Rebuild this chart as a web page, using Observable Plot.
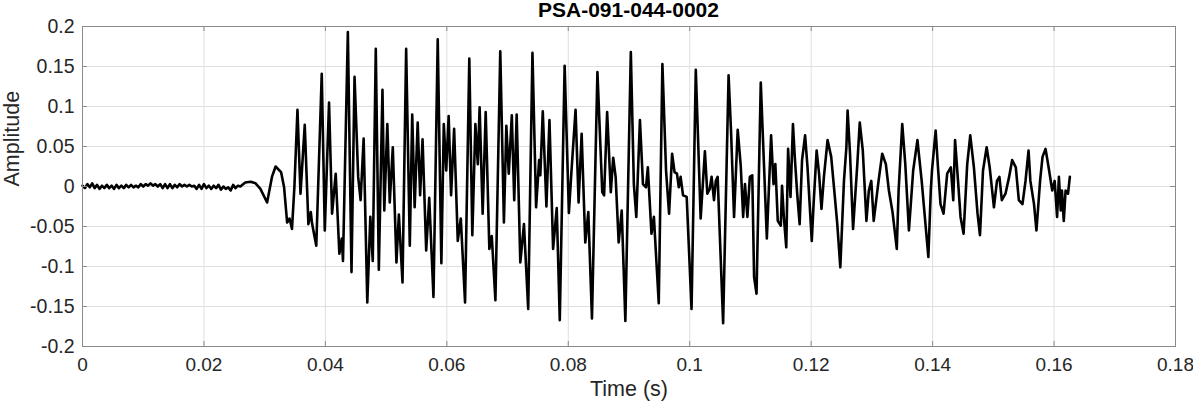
<!DOCTYPE html>
<html>
<head>
<meta charset="utf-8">
<script src="https://cdn.jsdelivr.net/npm/d3@7"></script>
<script src="https://cdn.jsdelivr.net/npm/@observablehq/plot@0.6"></script>
<style>
  html, body { margin: 0; padding: 0; background: #fff; }
  #wrap { position: relative; width: 1193px; height: 404px; }
  #title { position: absolute; left: 82px; top: 0; width: 1093px; height: 20px; line-height: 20px; text-align: center;
           font-family: "Liberation Sans", Arial, sans-serif; font-weight: bold; font-size: 21px; color: #000; z-index: 2; }
  #chart svg { display: block; overflow: visible; }
</style>
</head>
<body>
<div id="wrap">
<div id="title">PSA-091-044-0002</div>
<div id="chart"></div>
</div>
<script>
const titleText = "PSA-091-044-0002";
const xLabel = "Time (s)";
const yLabel = "Amplitude";
const xTicks = [0, 0.02, 0.04, 0.06, 0.08, 0.1, 0.12, 0.14, 0.16, 0.18];
const yTicks = [-0.2, -0.15, -0.1, -0.05, 0, 0.05, 0.1, 0.15, 0.2];

// [time (s), amplitude]
const quiet = [
  [0,0.001],[0.0004,-0.002],[0.0008,0.003],[0.0012,-0.001],[0.0016,0.004],[0.002,-0.002],
  [0.0024,0.002],[0.0028,-0.003],[0.0032,0.001],[0.0036,-0.002],[0.004,0.002],[0.0044,-0.002],
  [0.0048,0.001],[0.0052,-0.003],[0.0056,0.002],[0.006,-0.002],[0.0064,0.001],[0.0068,-0.002],
  [0.0072,0.002],[0.0076,-0.001],[0.008,0.002],[0.0084,-0.001],[0.0088,0.001],[0.0092,-0.001],
  [0.0096,0.003],[0.01,0.0],[0.0104,0.003],[0.0108,0.001],[0.0112,0.004],[0.0116,0.001],
  [0.012,0.003],[0.0124,0.0],[0.0128,0.003],[0.0132,-0.002],[0.0136,0.003],[0.014,-0.002],
  [0.0144,0.003],[0.0148,-0.002],[0.0152,0.002],[0.0156,-0.001],[0.016,0.003],[0.0164,0.0],
  [0.0168,0.002],[0.0172,0.0],[0.0176,0.002],[0.018,0.0],[0.0184,0.001],[0.0188,-0.003],
  [0.0192,0.002],[0.0196,-0.003],[0.02,0.003],[0.0204,-0.002],[0.0208,0.001],[0.0212,-0.003],
  [0.0216,0.001],[0.022,-0.002],[0.0224,0.002],[0.0228,-0.004],[0.0232,0.0],[0.0236,-0.003],
  [0.024,-0.001],[0.0244,-0.005],[0.0248,0.002],[0.0252,-0.002],[0.0256,0.001],[0.026,0.0]
];
const onset = [
  [0.0268,0.005],[0.0277,0.006],[0.0285,0.004],[0.0293,-0.003],[0.0304,-0.02],[0.0312,0.012],
  [0.0318,0.025],[0.0327,0.018],[0.0332,-0.001],[0.0337,-0.045],[0.0341,-0.04],[0.0345,-0.053],
  [0.0349,0.0],[0.0354,0.096],[0.0359,-0.009],[0.0366,0.077],[0.0372,-0.047],[0.0376,-0.032],
  [0.0378,-0.046],[0.0385,-0.074],[0.0394,0.141],[0.0399,-0.055],[0.0406,0.105],[0.0411,-0.034],
  [0.0417,0.016],[0.0423,-0.084],[0.0427,-0.065],[0.0429,-0.093],[0.0437,0.193],[0.0443,-0.107],
  [0.0448,0.137],[0.0454,0.012],[0.0458,-0.017],[0.0463,0.06],[0.0469,-0.145],[0.0474,-0.038],
  [0.0478,-0.093],[0.0483,0.172],[0.0488,-0.104],[0.0494,0.121],[0.0497,-0.03],[0.0502,0.078],
  [0.0506,-0.02],[0.0511,0.049],[0.0517,-0.095],[0.0521,-0.035],[0.0527,-0.12],[0.0533,0.172],
  [0.0539,-0.074],[0.0543,0.09],[0.0547,-0.026],[0.0552,0.08],[0.0556,-0.011],[0.056,0.059],
  [0.0566,-0.08],[0.0571,-0.014],[0.0578,-0.138],[0.0585,0.184],[0.0591,-0.096],[0.0595,0.078],
  [0.0599,0.02],[0.0603,0.088],[0.0607,-0.011],[0.0612,0.072],[0.0618,-0.068],[0.0623,-0.04],
  [0.063,-0.145],[0.0637,0.16],[0.0642,-0.061],[0.0647,0.078],[0.0651,0.028],[0.0654,0.099],
  [0.0659,-0.034],[0.0664,0.093],[0.067,-0.078],[0.0674,-0.062],[0.068,-0.142]
];
const voiced = [
  [0.0688,0.169],[0.0694,-0.045],[0.0698,0.076],[0.0702,0.016],[0.0707,0.089],[0.0711,-0.017],
  [0.0715,0.09],[0.0721,-0.095],[0.0727,-0.047],[0.0734,-0.153],[0.0741,0.167],[0.0747,-0.026],
  [0.0752,0.033],[0.0754,0.014],[0.0758,0.094],[0.0764,-0.025],[0.0769,0.083],[0.0775,-0.078],
  [0.0781,-0.027],[0.0786,-0.167],[0.0794,0.151],[0.0801,-0.033],[0.0805,0.016],[0.0812,0.096],
  [0.0817,-0.02],[0.0822,0.066],[0.0828,-0.07],[0.0833,-0.032],[0.0839,-0.165],[0.0848,0.143],
  [0.0856,-0.007],[0.0859,-0.011],[0.0864,0.093],[0.087,-0.007],[0.0874,0.036],[0.0878,0.012],
  [0.0883,-0.07],[0.0888,-0.03],[0.0894,-0.168],[0.0903,0.168],[0.0908,0.003],[0.0912,-0.038],
  [0.0918,0.083],[0.0923,0.003],[0.0928,-0.001],[0.0931,0.024],[0.0937,-0.059],[0.0941,-0.038],
  [0.0949,-0.146],[0.0955,0.153],[0.0961,0.02],[0.0966,-0.034],[0.0971,0.041],[0.0975,0.018],
  [0.0979,0.016],[0.0982,-0.001],[0.0985,0.012],[0.0989,-0.011],[0.0995,-0.013],[0.1003,-0.153],
  [0.101,0.146],[0.1018,-0.04],[0.1025,0.044],[0.1029,-0.009],[0.1033,-0.003],[0.1036,0.012],
  [0.104,-0.017],[0.1043,0.007],[0.1046,0.012],[0.1055,-0.171],[0.1064,0.139],[0.1068,0.07],
  [0.1073,-0.038],[0.1079,0.071],[0.1084,0.026],[0.1088,-0.038],[0.1091,0.003],[0.1095,-0.038],
  [0.1099,0.012],[0.1103,0.014],[0.1106,-0.113],[0.111,-0.134],[0.1117,0.13],[0.1122,0.033],
  [0.1127,-0.065],[0.1134,0.064],[0.1138,0.003],[0.1141,0.028],[0.1145,-0.043],[0.115,-0.049],
  [0.1152,0.001],[0.1155,-0.038],[0.1159,-0.076],[0.1162,0.047],[0.1166,-0.013],[0.117,0.078],
  [0.1173,0.037],[0.1177,-0.009],[0.1181,-0.047],[0.1185,0.033],[0.119,0.064],[0.1194,0.024]
];
const tail = [
  [0.1201,-0.068],[0.1204,-0.022],[0.1209,0.045],[0.1213,0.016],[0.1217,-0.028],[0.1221,0.012],
  [0.1227,0.058],[0.1233,0.037],[0.1239,-0.013],[0.1243,-0.047],[0.1248,-0.101],[0.1254,0.007],
  [0.1258,0.049],[0.126,0.095],[0.1264,0.041],[0.1269,-0.053],[0.1276,0.028],[0.128,0.08],
  [0.1285,0.045],[0.1291,-0.043],[0.1295,-0.005],[0.1299,0.007],[0.1303,-0.043],[0.1311,0.007],
  [0.1317,0.041],[0.1323,0.028],[0.1328,-0.005],[0.1334,-0.032],[0.1341,-0.078],[0.1344,-0.005],
  [0.135,0.078],[0.1355,0.028],[0.1361,-0.055],[0.1368,0.02],[0.1375,0.058],[0.1382,0.007],
  [0.1388,-0.045],[0.1393,-0.088],[0.1397,-0.005],[0.1399,0.02],[0.1405,0.07],[0.1409,0.022],
  [0.1413,-0.022],[0.1418,-0.034],[0.1424,0.016],[0.143,0.024],[0.1434,-0.017],[0.1437,0.058],
  [0.1441,0.016],[0.1446,-0.038],[0.1451,-0.059],[0.1457,0.028],[0.1462,0.064],[0.1468,0.024],
  [0.1474,-0.034],[0.1478,-0.061],[0.1483,0.02],[0.1489,0.049],[0.1494,0.024],[0.1501,-0.026],
  [0.1506,0.007],[0.151,0.012],[0.1514,-0.017],[0.152,-0.009],[0.1526,0.012],[0.1531,0.033],
  [0.1537,0.024],[0.1542,-0.017],[0.1548,-0.022],[0.1553,0.007],[0.1558,0.045],[0.1561,0.007],
  [0.1567,-0.022],[0.1571,-0.055],[0.1577,0.007],[0.1581,0.037],[0.1586,0.047],[0.1591,0.024],
  [0.1597,-0.005],[0.1601,0.007],[0.1605,-0.038],[0.1608,0.012],[0.1611,-0.03],[0.1613,-0.005],
  [0.1616,-0.043],[0.1619,-0.005],[0.1623,-0.009],[0.1626,0.012]
];
const wave = [...quiet, ...onset, ...voiced, ...tail];

document.getElementById("title").textContent = titleText;

const frameColor = "#8a8a8a";
const gridColor = "#dfdfdf";
const H = 404, W = 1193;
const mTop = 26, mBottom = 58, mLeft = 82, mRight = 18;
const plotH = H - mTop - mBottom;
const plotW = W - mLeft - mRight;

const chart = Plot.plot({
  width: W,
  height: H,
  marginTop: mTop,
  marginBottom: mBottom,
  marginLeft: mLeft,
  marginRight: mRight,
  x: {domain: [0, 0.18]},
  y: {domain: [-0.2, 0.2]},
  style: {fontFamily: "'Liberation Sans', Arial, sans-serif", fontSize: "19px", color: "#262626", background: "#fff", overflow: "visible"},
  marks: [
    Plot.gridX(xTicks, {stroke: gridColor, strokeOpacity: 1}),
    Plot.gridY(yTicks, {stroke: gridColor, strokeOpacity: 1}),
    Plot.line(wave, {x: d => d[0], y: d => d[1], stroke: "#000", strokeWidth: 2.6, strokeLinejoin: "round"}),
    Plot.tickX(xTicks, {x: d => d, stroke: frameColor, insetTop: plotH - 5}),
    Plot.tickX(xTicks, {x: d => d, stroke: frameColor, insetBottom: plotH - 5}),
    Plot.tickY(yTicks, {y: d => d, stroke: frameColor, insetRight: plotW - 5}),
    Plot.tickY(yTicks, {y: d => d, stroke: frameColor, insetLeft: plotW - 5}),
    Plot.frame({stroke: frameColor}),
    Plot.axisX(xTicks, {tickSize: 0, tickPadding: 11, tickFormat: d => String(d), label: null, fontSize: 19}),
    Plot.axisY(yTicks, {tickSize: 0, tickPadding: 8, tickFormat: d => String(d), label: null, fontSize: 19.5}),
    Plot.text([xLabel], {text: d => d, frameAnchor: "bottom", lineAnchor: "bottom", dy: 49, fontSize: 21.5, fill: "#262626"}),
    Plot.text([yLabel], {text: d => d, frameAnchor: "left", rotate: -90, lineAnchor: "bottom", dx: -64, fontSize: 21.5, fill: "#262626"})
  ]
});
document.getElementById("chart").appendChild(chart);
</script>
</body>
</html>
